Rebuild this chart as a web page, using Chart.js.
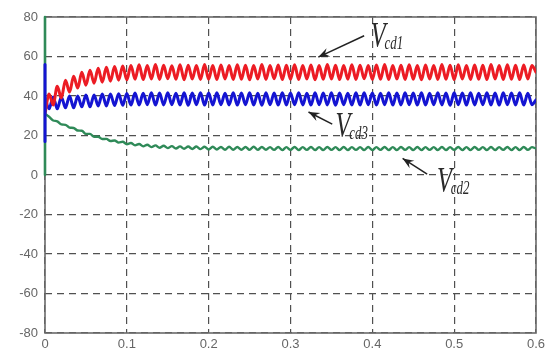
<!DOCTYPE html>
<html>
<head>
<meta charset="utf-8">
<script src="https://cdn.jsdelivr.net/npm/chart.js@4/dist/chart.umd.min.js"></script>
<style>
  html, body { margin: 0; padding: 0; background: #fff; }
  #wrap { width: 552px; height: 354px; }
  #plot { filter: blur(0.5px); }
</style>
</head>
<body>
<div id="wrap"><canvas id="plot" width="552" height="354"></canvas></div>
<script>
// sample spacing (half a ripple period, 100 Hz ripple)
const dt = 0.005;

const xTickLabels = ['0', '0.1', '0.2', '0.3', '0.4', '0.5', '0.6'];
const yTickLabels = ['-80', '-60', '-40', '-20', '0', '20', '40', '60', '80'];

// Vcd1 (red)
const vcd1 = [
  31, 41, 35.5, 45, 39, 48, 42, 50, 44, 52,
  45.5, 53, 46.5, 54, 47, 54.5, 47.5, 55, 48, 55.2,
  48.2, 55.5, 48.5, 55.8, 48.3, 55.4, 48.6, 55.9, 48.4, 55.6,
  48.7, 55.3, 48.5, 55.8, 48.2, 55.6, 48.6, 55.4, 48.4, 55.9,
  48.5, 55.5, 48.3, 55.7, 48.6, 55.4, 48.4, 55.8, 48.5, 55.6,
  48.2, 55.5, 48.6, 55.9, 48.4, 55.4, 48.7, 55.7, 48.3, 55.6,
  48.5, 55.8, 48.4, 55.5, 48.6, 55.7, 48.2, 55.4, 48.5, 55.9,
  48.6, 55.6, 48.3, 55.5, 48.5, 55.8, 48.4, 55.6, 48.7, 55.4,
  48.4, 55.7, 48.5, 55.9, 48.3, 55.5, 48.6, 55.6, 48.4, 55.8,
  48.5, 55.4, 48.2, 55.7, 48.6, 55.5, 48.4, 55.9, 48.5, 55.6,
  48.3, 55.8, 48.6, 55.4, 48.4, 55.7, 48.5, 55.6, 48.3, 55.9,
  48.6, 55.5, 48.4, 55.8, 48.5, 55.6, 48.3, 55.7, 48.6, 55.5,
  52
];

// Vcd3 (blue)
const vcd3 = [
  39, 33.5, 39.5, 33.5, 39.5, 34, 40, 34, 40, 34.5,
  40.5, 34.5, 40.5, 35, 41, 35, 41, 35.2, 41.2, 35.3,
  41.3, 35.4, 41.5, 35.5, 41.4, 35.6, 41.6, 35.4, 41.5, 35.5,
  41.7, 35.6, 41.4, 35.5, 41.6, 35.3, 41.5, 35.6, 41.7, 35.4,
  41.5, 35.5, 41.6, 35.6, 41.4, 35.5, 41.7, 35.4, 41.5, 35.6,
  41.6, 35.5, 41.4, 35.3, 41.7, 35.6, 41.5, 35.4, 41.6, 35.5,
  41.5, 35.6, 41.7, 35.5, 41.4, 35.4, 41.6, 35.6, 41.5, 35.5,
  41.7, 35.3, 41.5, 35.6, 41.4, 35.5, 41.6, 35.4, 41.7, 35.6,
  41.5, 35.5, 41.4, 35.6, 41.6, 35.4, 41.5, 35.5, 41.7, 35.6,
  41.5, 35.4, 41.6, 35.5, 41.4, 35.6, 41.7, 35.5, 41.5, 35.3,
  41.6, 35.6, 41.5, 35.4, 41.7, 35.5, 41.4, 35.6, 41.6, 35.5,
  41.5, 35.4, 41.7, 35.6, 41.5, 35.5, 41.6, 35.4, 41.4, 35.6,
  38
];

// Vcd2 (green)
const vcd2 = [
  31, 29.5, 27.6, 27.2, 25.6, 25.4, 24, 23.8, 22.5, 22.4,
  20.8, 20.8, 19.4, 19.4, 18.2, 18.3, 17.2, 17.5, 16.4, 16.8,
  15.6, 16.2, 15, 15.7, 14.5, 15.3, 14.1, 15, 13.8, 14.8,
  13.6, 14.6, 13.4, 14.5, 13.3, 14.4, 13.2, 14.4, 13.1, 14.3,
  12.9, 14.3, 12.9, 14.2, 12.8, 14.3, 12.8, 14.2, 12.8, 14.2,
  12.7, 14.3, 12.7, 14.2, 12.8, 14.1, 12.7, 14.2, 12.6, 14.1,
  12.7, 14.2, 12.6, 14.1, 12.7, 14.2, 12.6, 14.1, 12.6, 14.2,
  12.7, 14.1, 12.6, 14.2, 12.6, 14.1, 12.7, 14.1, 12.6, 14.2,
  12.6, 14.1, 12.7, 14.2, 12.6, 14.1, 12.6, 14.2, 12.7, 14.1,
  12.6, 14.2, 12.6, 14.1, 12.7, 14.1, 12.6, 14.2, 12.6, 14.1,
  12.7, 14.2, 12.6, 14.1, 12.6, 14.2, 12.7, 14.1, 12.6, 14.2,
  12.6, 14.1, 12.7, 14.2, 12.6, 14.1, 12.6, 14.2, 12.7, 14.1,
  13.4
];

// switch-on transients at t = 0 (vertical jumps)
const vcd2Start = [[0, 0], [0, 80], [0, 31]];
const vcd3Start = [[0, 17], [0, 56], [0, 39]];

const RED = '#ec1c24';
const BLUE = '#1414d2';
const GREEN = '#2f8a58';

function series(vals) {
  return vals.map((v, i) => ({ x: i * dt, y: v }));
}
function pairs(arr) {
  return arr.map(p => ({ x: p[0], y: p[1] }));
}

// curve labels with arrows, placed in data units
const notes = [
  { sub: 'cd1', at: [0.398, 64.8], tail: [0.390, 70.5], head: [0.334, 59.7] },
  { sub: 'cd3', at: [0.355, 19.2], tail: [0.351, 25.8], head: [0.322, 31.9] },
  { sub: 'cd2', at: [0.479, -8.6], tail: [0.467, 0.5], head: [0.437, 8.4] }
];

const frameAndNotes = {
  id: 'frameAndNotes',
  beforeDatasetsDraw(chart) {
    const { ctx, chartArea: a } = chart;
    ctx.save();
    ctx.strokeStyle = '#6a6a6a';
    ctx.lineWidth = 1.6;
    ctx.strokeRect(a.left, a.top, a.right - a.left, a.bottom - a.top);
    ctx.restore();
  },
  afterDatasetsDraw(chart) {
    const { ctx, scales } = chart;
    const px = v => scales.x.getPixelForValue(v);
    const py = v => scales.y.getPixelForValue(v);
    ctx.save();
    ctx.strokeStyle = '#222';
    ctx.fillStyle = '#222';
    notes.forEach(n => {
      const x0 = px(n.tail[0]), y0 = py(n.tail[1]);
      const x1 = px(n.head[0]), y1 = py(n.head[1]);
      const ang = Math.atan2(y1 - y0, x1 - x0);
      ctx.lineWidth = 1.5;
      ctx.beginPath();
      ctx.moveTo(x0, y0);
      ctx.lineTo(x1, y1);
      ctx.stroke();
      // arrow head
      const len = 12, spread = 0.38;
      ctx.beginPath();
      ctx.moveTo(x1, y1);
      ctx.lineTo(x1 - len * Math.cos(ang - spread), y1 - len * Math.sin(ang - spread));
      ctx.lineTo(x1 - len * 0.6 * Math.cos(ang), y1 - len * 0.6 * Math.sin(ang));
      ctx.lineTo(x1 - len * Math.cos(ang + spread), y1 - len * Math.sin(ang + spread));
      ctx.closePath();
      ctx.fill();

      // V with subscript
      ctx.save();
      ctx.translate(px(n.at[0]), py(n.at[1]));
      ctx.scale(0.68, 1);
      ctx.textBaseline = 'alphabetic';
      ctx.font = 'italic 36px "Liberation Serif", serif';
      ctx.fillStyle = '#2a2a2a';
      ctx.fillText('V', 0, 0);
      const w = ctx.measureText('V').width;
      ctx.font = 'italic 19px "Liberation Serif", serif';
      ctx.fillText(n.sub, w * 0.92, 2);
      ctx.restore();
    });
    ctx.restore();
  }
};

const lineStyle = { fill: false, pointRadius: 0, borderJoinStyle: 'round', borderCapStyle: 'round' };

// datasets listed first are painted on top
new Chart(document.getElementById('plot'), {
  type: 'line',
  data: {
    datasets: [
      Object.assign({ data: pairs(vcd3Start), borderColor: BLUE, borderWidth: 3, tension: 0, clip: false }, lineStyle),
      Object.assign({ data: pairs(vcd2Start), borderColor: GREEN, borderWidth: 2.6, tension: 0, clip: false }, lineStyle),
      Object.assign({ data: series(vcd2), borderColor: GREEN, borderWidth: 2.4, cubicInterpolationMode: 'monotone' }, lineStyle),
      Object.assign({ data: series(vcd1), borderColor: RED, borderWidth: 3, cubicInterpolationMode: 'monotone' }, lineStyle),
      Object.assign({ data: series(vcd3), borderColor: BLUE, borderWidth: 3, cubicInterpolationMode: 'monotone' }, lineStyle)
    ]
  },
  options: {
    responsive: false,
    animation: false,
    events: [],
    layout: { padding: { top: 17, right: 16, left: 0, bottom: 0 } },
    plugins: { legend: { display: false }, tooltip: { enabled: false } },
    scales: {
      x: {
        type: 'linear',
        min: 0,
        max: 0.6,
        afterFit: s => { s.height = 21; },
        ticks: {
          stepSize: 0.1,
          padding: 4,
          color: '#666',
          font: { family: '"Liberation Sans", Arial, sans-serif', size: 13 },
          maxRotation: 0,
          callback: (v, i) => xTickLabels[i]
        },
        grid: { color: '#505050', lineWidth: 1.2, drawTicks: false },
        border: { display: false, dash: [7, 5] }
      },
      y: {
        min: -80,
        max: 80,
        afterFit: s => { s.width = 45; },
        ticks: {
          stepSize: 20,
          padding: 7,
          color: '#666',
          font: { family: '"Liberation Sans", Arial, sans-serif', size: 13 },
          callback: (v, i) => yTickLabels[i]
        },
        grid: { color: '#505050', lineWidth: 1.2, drawTicks: false },
        border: { display: false, dash: [7, 5] }
      }
    }
  },
  plugins: [frameAndNotes]
});
</script>
</body>
</html>
